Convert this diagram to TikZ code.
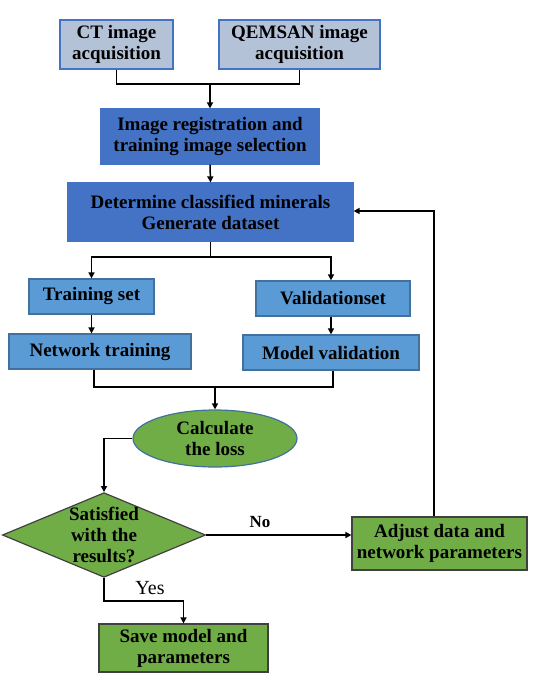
\documentclass[tikz,border=0pt]{standalone}
\usepackage{fontspec}
\setmainfont{Liberation Serif}
\usetikzlibrary{shapes.geometric,arrows.meta}
\definecolor{grayblue}{HTML}{B4C2D8}
\definecolor{darkblue}{HTML}{4472C4}
\definecolor{midblue}{HTML}{5B9BD5}
\definecolor{edgeblue}{HTML}{41719C}
\definecolor{leaf}{HTML}{70AD47}
\definecolor{edgegray}{HTML}{404040}
\tikzset{
  base/.style={font=\bfseries\fontsize{19}{21}\selectfont, align=center, inner sep=0pt, line width=1.2pt},
  graybox/.style={base, rectangle, draw=darkblue, fill=grayblue},
  dbox/.style={base, rectangle, draw=darkblue, fill=darkblue},
  mbox/.style={base, rectangle, draw=edgeblue, fill=midblue},
  gbox/.style={base, rectangle, draw=edgegray, fill=leaf},
  lossell/.style={base, ellipse, draw=edgeblue, fill=leaf},
  decide/.style={base, diamond, draw=edgegray, fill=leaf},
  conn/.style={line width=1.5pt, black},
  arr/.style={conn, -{Triangle[length=6pt,width=6pt]}},
  lbl/.style={inner sep=0pt}
}
\begin{document}
\begin{tikzpicture}[x=1pt,y=-1pt]
\useasboundingbox (0,0) rectangle (543,683);
\node[graybox, minimum width=113pt, minimum height=49pt] (ct) at (116.5,44.5) {CT image\\acquisition};
\node[graybox, minimum width=161pt, minimum height=49pt] (qem) at (299.5,44.5) {QEMSAN image\\acquisition};
\node[dbox, minimum width=218pt, minimum height=55pt] (reg) at (210,136.5) {Image registration and\\training image selection};
\node[dbox, minimum width=285pt, minimum height=58pt] (det) at (210.5,212) {Determine classified minerals\\Generate dataset};
\node[mbox, minimum width=125pt, minimum height=35pt] (train) at (91.5,296.5) {Training set};
\node[mbox, minimum width=154pt, minimum height=35pt] (val) at (333,298.5) {Validationset};
\node[mbox, minimum width=182pt, minimum height=35pt] (net) at (100,351.5) {Network training};
\node[mbox, minimum width=176pt, minimum height=35pt] (mod) at (331,352.5) {Model validation};
\node[lossell, minimum width=164pt, minimum height=57pt] (loss) at (215,438.5) {Calculate\\the loss};
\node[decide, minimum width=198pt, minimum height=82pt, aspect=2.4] (sat) at (104,535) {Satisfied\\with the\\results?};
\node[gbox, minimum width=175pt, minimum height=53pt] (adj) at (439.5,543.5) {Adjust data and\\network parameters};
\node[gbox, minimum width=169pt, minimum height=48pt] (save) at (183.5,648) {Save model and\\parameters};

\coordinate (j1) at (210,84);
\coordinate (s1) at (210.5,257);
\coordinate (m1) at (215,387);
\coordinate (fb) at (434,211);
\coordinate (y1) at (183.5,601);

\draw[conn] (ct.south) |- (j1) -| (qem.south);
\draw[arr] (j1) -- (reg.north);
\draw[arr] (reg.south) -- (det.north);
\draw[conn] (det.south) -- (s1);
\draw[arr] (s1) -| (train.north);
\draw[arr] (s1) -| (val.north -| mod.north);
\draw[arr] (train.south) -- (train.south |- net.north);
\draw[arr] (val.south -| mod.north) -- (mod.north);
\draw[conn] (net.south -| 94,0) |- (m1) -| (mod.south -| val.south);
\draw[arr] (m1) -- (loss.north);
\draw[arr] (loss.west) -| (sat.north);
\draw[arr] (sat.east) -- (sat.east -| adj.west);
\node[lbl, font=\bfseries\fontsize{17}{20}\selectfont] (no) at (260,522) {No};
\draw[arr] (fb |- adj.north) -- (fb) -- (fb -| det.east);
\draw[arr] (sat.south) |- (y1) -- (save.north);
\node[lbl, font=\fontsize{20}{20}\selectfont] (yes) at (150,588) {Yes};
\end{tikzpicture}
\end{document}
